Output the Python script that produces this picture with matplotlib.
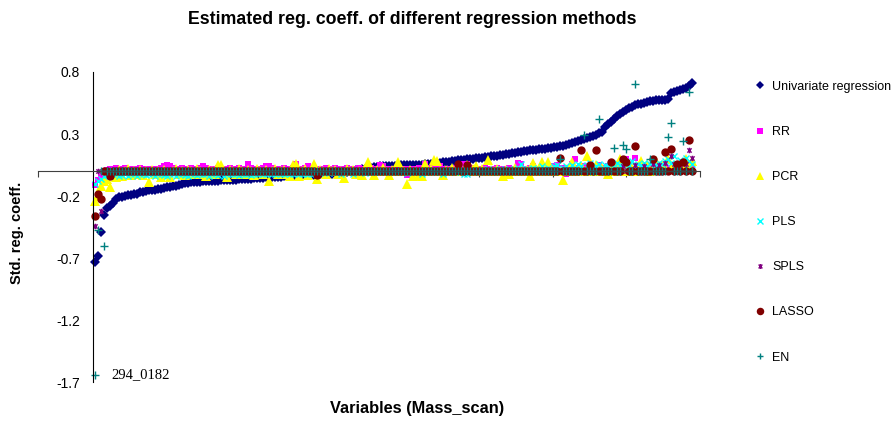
import numpy as np
import matplotlib
matplotlib.use("Agg")
import matplotlib.pyplot as plt
from matplotlib.path import Path

plt.rcParams['font.family'] = ['Liberation Sans', 'DejaVu Sans']

# estimated coefficients, variables sorted by univariate coefficient
univariate = [
    -0.73, -0.68, -0.49, -0.35, -0.30, -0.28, -0.26, -0.22, -0.21, -0.205,
    -0.20, -0.195, -0.19, -0.185, -0.18, -0.17, -0.165, -0.16, -0.155, -0.152,
    -0.148, -0.145, -0.14, -0.135, -0.13, -0.125, -0.12, -0.115, -0.11, -0.10,
    -0.095, -0.092, -0.09, -0.088, -0.086, -0.084, -0.082, -0.08, -0.078, -0.077,
    -0.076, -0.075, -0.074, -0.073, -0.072, -0.071, -0.07, -0.068, -0.066, -0.064,
    -0.062, -0.061, -0.06, -0.058, -0.056, -0.054, -0.052, -0.05, -0.048, -0.046,
    -0.045, -0.044, -0.043, -0.042, -0.041, -0.04, -0.038, -0.036, -0.035, -0.034,
    -0.033, -0.032, -0.031, -0.03, -0.028, -0.026, -0.025, -0.024, -0.022, -0.02,
    -0.017, -0.014, -0.011, -0.008, -0.004, 0.0, 0.004, 0.008, 0.012, 0.016,
    0.02, 0.025, 0.03, 0.035, 0.037, 0.039, 0.041, 0.043, 0.044, 0.045,
    0.046, 0.047, 0.048, 0.049, 0.05, 0.05, 0.051, 0.051, 0.052, 0.053,
    0.055, 0.058, 0.06, 0.063, 0.066, 0.069, 0.072, 0.075, 0.078, 0.081,
    0.084, 0.087, 0.09, 0.093, 0.097, 0.1, 0.102, 0.105, 0.108, 0.11,
    0.113, 0.116, 0.119, 0.122, 0.125, 0.128, 0.132, 0.136, 0.14, 0.144,
    0.148, 0.152, 0.156, 0.16, 0.164, 0.168, 0.171, 0.174, 0.177, 0.18,
    0.183, 0.186, 0.189, 0.192, 0.196, 0.2, 0.205, 0.215, 0.22, 0.227,
    0.234, 0.241, 0.248, 0.26, 0.268, 0.276, 0.285, 0.295, 0.31, 0.32,
    0.36, 0.38, 0.40, 0.42, 0.445, 0.465, 0.48, 0.495, 0.51, 0.52,
    0.53, 0.538, 0.546, 0.552, 0.558, 0.563, 0.568, 0.572, 0.575, 0.577,
    0.578, 0.58, 0.627, 0.637, 0.647, 0.657, 0.666, 0.675, 0.69, 0.708,
]

rr = [
    -0.11, -0.07, -0.045, -0.02, 0.01, 0.02, 0.02, 0.03, 0.02, 0.02, 0.03, 0.02, 0.02, 0.01, 0.02, 0.03, 0.02, 0.02, 0.02, 0.01,
    0.02, 0.02, 0.03, 0.04, 0.05, 0.04, 0.03, 0.02, 0.02, 0.03, 0.02, 0.02, 0.03, 0.02, 0.02, 0.03, 0.04, 0.03, 0.02, 0.02,
    0.02, 0.03, 0.02, 0.02, 0.02, 0.03, 0.02, 0.02, 0.03, 0.02, 0.02, 0.055, 0.03, 0.02, 0.02, 0.02, 0.03, 0.04, 0.04, 0.03,
    0.02, 0.02, 0.02, 0.03, 0.02, 0.02, 0.03, 0.055, 0.02, 0.02, 0.03, 0.04, 0.03, 0.02, 0.02, 0.02, 0.02, 0.03, 0.02, 0.02,
    0.03, 0.02, 0.02, 0.02, 0.03, 0.02, 0.02, 0.02, 0.03, 0.02, 0.02, 0.02, 0.03, 0.02, 0.02, 0.05, 0.04, 0.02, 0.02, 0.02,
    0.02, 0.03, 0.02, 0.02, -0.03, 0.02, 0.02, 0.02, 0.03, 0.02, 0.06, 0.02, 0.03, 0.02, 0.02, 0.04, 0.02, 0.02, 0.02, 0.02,
    0.03, 0.02, 0.06, 0.05, 0.06, 0.02, 0.03, 0.02, 0.02, 0.02, 0.03, 0.02, 0.02, 0.02, 0.03, 0.02, 0.02, 0.02, 0.03, 0.02,
    0.02, 0.07, 0.06, 0.02, 0.02, 0.03, 0.04, 0.02, 0.02, 0.02, 0.03, 0.02, 0.03, 0.04, 0.05, 0.02, 0.03, -0.02, 0.03, 0.06,
    0.1, 0.03, 0.02, 0.04, 0.03, 0.02, 0.03, 0.02, 0.05, 0.02, 0.03, 0.04, 0.02, 0.03, 0.05, 0.02, 0.03, 0.1, 0.04, 0.02,
    0.11, 0.03, 0.02, 0.03, 0.04, 0.02, 0.03, 0.05, 0.02, 0.03, 0.04, 0.02, 0.03, 0.05, 0.02, 0.04, 0.03, 0.05, 0.04, 0.03,
]

pcr = [
    -0.24, -0.2, -0.12, -0.08, -0.06, -0.13, -0.03, -0.05, 0.01, -0.04, 0.0, 0.02, -0.03, 0.0, -0.02, 0.01, -0.03, 0.0, -0.085, 0.01,
    -0.02, 0.0, -0.05, 0.01, -0.02, -0.05, 0.0, 0.02, -0.02, 0.0, -0.03, 0.01, 0.0, -0.02, 0.02, 0.0, -0.02, -0.035, 0.01, 0.0,
    -0.02, 0.05, 0.05, 0.0, -0.045, 0.01, 0.0, -0.02, 0.02, 0.0, -0.02, 0.01, 0.0, -0.03, 0.02, 0.0, -0.02, 0.01, -0.075, 0.0,
    0.02, -0.02, 0.0, 0.01, -0.02, -0.035, 0.05, 0.06, -0.035, 0.0, 0.02, -0.03, 0.0, 0.06, -0.065, 0.01, 0.0, -0.02, 0.02, 0.0,
    0.01, -0.02, 0.0, -0.055, 0.02, 0.0, 0.01, -0.02, 0.0, -0.03, 0.02, 0.077, 0.0, -0.03, 0.01, 0.0, 0.03, 0.0, -0.03, 0.01,
    0.0, 0.077, 0.02, 0.0, -0.1, 0.01, -0.035, 0.0, -0.03, -0.035, 0.06, 0.0, 0.02, 0.09, 0.08, 0.0, -0.03, 0.01, 0.0, 0.03,
    0.0, 0.02, 0.0, 0.01, 0.05, 0.0, 0.02, 0.04, 0.0, 0.02, 0.0, 0.09, 0.01, 0.0, 0.02, 0.0, -0.035, 0.01, -0.02, 0.0,
    0.03, 0.0, 0.02, 0.0, 0.01, -0.035, 0.07, 0.0, 0.02, 0.077, 0.0, 0.077, 0.01, 0.0, 0.03, 0.0, -0.07, 0.02, 0.0, 0.077,
    0.02, 0.0, 0.04, 0.0, 0.125, 0.02, 0.0, 0.05, 0.0, 0.03, 0.0, -0.02, 0.04, 0.0, 0.05, 0.1, 0.02, 0.0, 0.05, 0.03,
    0.0, 0.04, 0.08, 0.02, 0.05, 0.0, 0.03, 0.08, 0.02, 0.05, 0.03, 0.1, 0.02, 0.05, 0.03, 0.06, 0.02, 0.1, 0.05, 0.08,
]

pls = [
    -0.1, -0.08, -0.06, -0.04, -0.03, -0.035, -0.025, -0.02, -0.035, -0.03, -0.02, -0.035, -0.025, -0.02, -0.035, -0.025, -0.02, -0.03, -0.02, -0.025,
    -0.035, -0.02, -0.025, -0.03, -0.04, -0.02, -0.025, -0.035, -0.02, -0.025, -0.03, -0.035, -0.02, -0.025, -0.03, -0.02, -0.025, -0.02, -0.035, -0.025,
    -0.02, -0.03, -0.02, -0.035, -0.025, -0.02, -0.02, -0.025, -0.03, -0.02, -0.02, -0.025, -0.03, -0.02, -0.02, -0.015, -0.025, -0.02, -0.015, -0.025,
    -0.02, -0.015, -0.025, -0.02, -0.015, -0.025, -0.02, -0.015, -0.02, -0.025, -0.015, -0.02, -0.025, -0.015, -0.01, -0.015, -0.01, -0.01, -0.015, -0.01,
    -0.01, -0.005, -0.02, -0.01, 0.0, -0.01, -0.02, -0.005, 0.0, -0.01, -0.015, 0.0, -0.01, -0.005, 0.0, -0.01, 0.0, 0.005, -0.01, 0.0,
    0.0, -0.01, 0.005, 0.0, -0.015, 0.0, -0.01, 0.005, 0.0, -0.02, 0.0, 0.01, -0.01, 0.0, 0.01, -0.01, -0.02, 0.0, 0.01, 0.0,
    -0.01, 0.0, 0.01, -0.02, -0.025, 0.0, 0.01, 0.0, -0.01, 0.01, 0.0, 0.02, 0.0, 0.01, -0.01, 0.02, 0.0, 0.01, 0.02, 0.0,
    0.01, 0.03, 0.06, 0.01, 0.02, 0.0, 0.03, 0.02, 0.01, 0.04, 0.02, 0.03, 0.01, 0.04, 0.05, 0.02, 0.03, 0.04, 0.02, 0.05,
    0.03, 0.06, 0.04, 0.02, 0.05, 0.07, 0.03, 0.04, 0.06, 0.02, 0.05, 0.04, 0.06, 0.03, 0.07, 0.05, 0.04, 0.06, 0.05, 0.08,
    0.04, 0.06, 0.05, 0.07, 0.04, 0.06, 0.08, 0.05, 0.07, 0.06, 0.08, 0.1, 0.07, 0.12, 0.06, 0.09, 0.07, 0.11, 0.08, 0.06,
]

spls = [
    -0.44, 0, -0.32, 0, 0, 0, 0, 0, 0, 0, 0, 0, 0, 0, 0, 0, 0, 0, 0, 0,
    0, 0, 0, 0, 0, 0, 0, 0, 0, 0, 0, 0, 0, 0, 0, 0, 0, 0, 0, 0,
    0, 0, 0, 0, 0, 0, 0, 0, 0, 0, 0, 0, 0, 0, 0, 0, 0, 0, 0, 0,
    0, 0, 0, 0, 0, 0, 0, 0, 0, 0, 0, 0, 0, 0, 0, 0, 0, 0, 0, 0,
    0, 0, 0, 0, 0, 0, 0, 0, 0, 0, 0, 0, 0, 0, 0, 0, 0, 0, 0, 0,
    0, 0, 0, 0, 0, 0, 0, 0, 0, 0, 0, 0, 0, 0, 0, 0, 0, 0, 0, 0,
    0, 0, 0, 0, 0, 0, 0, 0, 0, 0, 0, 0, 0, 0, 0, 0, 0, 0, 0, 0,
    0, 0, 0, 0, 0, 0, 0, 0, 0, 0, 0, 0, 0, 0, 0, 0, 0, 0, 0, 0,
    0, 0, 0, 0, 0, 0, 0, 0, 0, 0, 0, 0, 0, 0, 0, 0, 0.04, 0, 0, 0,
    0.05, 0, 0, 0.04, 0, 0, 0.06, 0, 0.05, 0, 0.07, 0, 0.12, 0.06, 0, 0.05, 0.08, 0.06, 0.17, 0.11,
]

lasso = [
    -0.36, -0.18, -0.22, 0, 0, -0.04, 0, 0, 0, 0, 0, 0, 0, 0, 0, 0, 0, 0, 0, 0,
    0, 0, 0, 0, 0, 0, 0, 0, 0, 0, 0, 0, 0, 0, 0, 0, 0, 0, 0, 0,
    0, 0, 0, 0, 0, 0, 0, 0, 0, 0, 0, 0, 0, 0, 0, 0, 0, 0, 0, 0,
    0, 0, 0, 0, 0, 0, 0, 0, 0, 0, 0, 0, 0, 0, -0.03, 0, 0, 0, 0, 0,
    0, 0, 0, 0, 0, 0, 0, 0, 0, 0, 0, 0, 0, 0, 0, 0, 0, 0, 0, 0,
    0, 0, 0, 0, 0, 0, 0, 0, 0, 0, 0, 0, 0, 0, 0, 0, 0, 0, 0, 0,
    0, 0.06, 0, 0, 0.05, 0, 0, 0, 0, 0, 0, 0, 0, 0, 0, 0, 0, 0, 0, 0,
    0, 0, 0, 0, 0, 0, 0, 0, 0, 0, 0, 0, 0, 0, 0, 0.11, 0, 0, 0, 0,
    0, 0, 0.17, 0, 0, 0.05, 0, 0.17, 0, 0, 0, 0, 0.077, 0, 0, 0, 0.1, 0.077, 0, 0,
    0.2, 0, 0, 0, 0, 0, 0.1, 0, 0, 0, 0.158, 0, 0.18, 0, 0.06, 0, 0.077, 0, 0.255, 0,
]

en = [
    -1.64, -0.47, 0, -0.6, 0, 0, 0, 0, 0, 0, 0, 0, 0, 0, 0, 0, 0, 0, 0, 0,
    0, 0, 0, 0, 0, 0, 0, 0, 0, 0, 0, 0, 0, 0, 0, 0, 0, 0, 0, 0,
    0, 0, 0, 0, 0, 0, 0, 0, 0, 0, 0, 0, 0, 0, 0, 0, 0, 0, 0, 0,
    0, 0, 0, 0, 0, 0, 0, 0, 0, 0, 0, 0, 0, 0, 0, 0, 0, 0, 0, 0,
    0, 0, 0, 0, 0, 0, 0, 0, 0, 0, 0, 0, 0, 0, 0, 0, 0, 0, 0, 0,
    0, 0, 0, 0, 0, 0, 0, 0, 0, 0, 0, 0, 0, 0, 0, 0, 0, 0, 0, 0,
    0, 0, 0, 0, 0, 0, 0, 0, 0, 0, 0, 0, 0, 0, 0, 0, 0, 0, 0, 0,
    0, 0, 0, 0, 0, 0, 0, 0, 0, 0, 0, 0, 0, 0, 0, 0.10, 0, 0, 0, 0,
    0, 0, 0, 0.295, 0, 0, 0, 0, 0.425, 0, 0, 0, 0, 0.19, 0, 0, 0.215, 0.18, 0, 0,
    0.70, 0, 0, 0, 0, 0.10, 0, 0, 0, 0, 0, 0.28, 0.39, 0, 0, 0, 0.245, 0, 0.635, 0,
]

outlier_label = "294_0182"
y_ticks = [0.8, 0.3, -0.2, -0.7, -1.2, -1.7]

x = np.arange(len(univariate))

# excel-like star marker for SPLS (x with vertical bar)
star = Path([(-1, -1), (1, 1), (-1, 1), (1, -1), (0, -1.3), (0, 1.3)],
            [Path.MOVETO, Path.LINETO, Path.MOVETO, Path.LINETO, Path.MOVETO, Path.LINETO])

series = [
    ("Univariate regression", univariate, "D", "#000080", 5),
    ("RR", rr, "s", "#FF00FF", 4.5),
    ("PCR", pcr, "^", "#FFFF00", 7),
    ("PLS", pls, "x", "#00FFFF", 4.5),
    ("SPLS", spls, star, "#800080", 4),
    ("LASSO", lasso, "o", "#800000", 6),
    ("EN", en, "+", "#008080", 5.5),
]

fig = plt.figure(figsize=(8.96, 4.26), dpi=100)
ax = fig.add_axes([0.042, 0.103, 0.739, 0.728])

for name, vals, mk, col, ms in series:
    if mk in ("x", "+") or mk is star:
        ax.plot(x, vals, linestyle="none", marker=mk, color=col, ms=ms, mew=1.0, label=name)
    else:
        ax.plot(x, vals, linestyle="none", marker=mk, color=col, mec=col, ms=ms, mew=0, label=name)

ax.annotate(outlier_label, (x[0], en[0]), xytext=(12, 0), textcoords="offset points",
            va="center", ha="left", fontsize=10.5, family="Liberation Serif")

x_left, x_right = -19, 201.7
ax.set_xlim(x_left, x_right)
ax.set_ylim(-1.7, 0.8)
ax.set_yticks(y_ticks)
ax.set_yticklabels([f"{t:.1f}" for t in y_ticks], fontsize=9.5)
ax.set_xticks(np.linspace(x_left, x_right, 10))
ax.set_xticklabels([])
ax.tick_params(axis="y", length=0, pad=9)
ax.tick_params(axis="x", length=4, direction="out", width=0.8, color="#404040")

ax.spines["top"].set_visible(False)
ax.spines["right"].set_visible(False)
ax.spines["left"].set_position(("data", -0.7))
ax.spines["bottom"].set_position(("data", 0))
ax.spines["left"].set_color("black")
ax.spines["bottom"].set_color("#404040")

ax.set_ylabel("Std. reg. coeff.", fontsize=10.5, fontweight="bold")
ax.yaxis.set_label_coords(-0.021, 0.48, transform=ax.transAxes)
fig.text(0.465, 0.04, "Variables (Mass_scan)", fontsize=11.8, fontweight="bold", ha="center", va="center")
fig.text(0.46, 0.955, "Estimated reg. coeff. of different regression methods",
         fontsize=12.8, fontweight="bold", ha="center", va="center")

leg = ax.legend(loc="upper left", bbox_to_anchor=(0.837, 0.822), bbox_transform=fig.transFigure,
                frameon=False, fontsize=9, labelspacing=2.65, handlelength=0.8,
                handletextpad=0.6, borderaxespad=0, markerscale=0.9)

fig.savefig("out.png", dpi=100)
